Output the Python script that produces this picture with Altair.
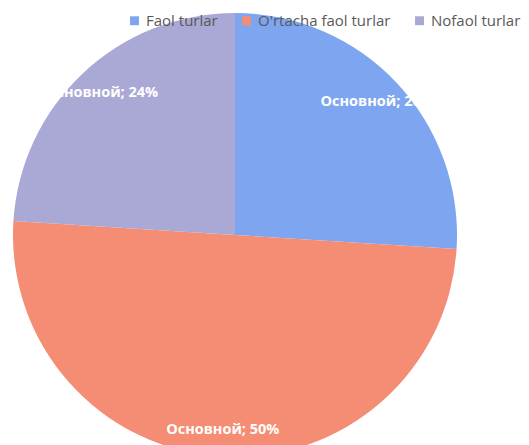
import altair as alt
import pandas as pd

categories = ["Faol turlar", "O'rtacha faol turlar", "Nofaol turlar"]
values = [26, 50, 24]
labels = ["Основной; 26%", "Основной; 50%", "Основной; 24%"]
colors = ["#7ea6f0", "#f58c74", "#aaa9d6"]

df = pd.DataFrame({"cat": categories, "val": values, "lab": labels, "idx": list(range(len(categories)))})

base = alt.Chart(df).encode(
    theta=alt.Theta("val:Q", stack=True),
    order=alt.Order("idx:O"),
)

arcs = base.mark_arc(outerRadius=222, strokeWidth=0).encode(
    x=alt.value(235),
    y=alt.value(235),
    color=alt.Color(
        "cat:N",
        scale=alt.Scale(domain=categories, range=colors),
        sort=categories,
        legend=alt.Legend(
            title=None,
            orient="none",
            direction="horizontal",
            legendX=127,
            legendY=13,
            symbolType="square",
            symbolSize=80,
            symbolStrokeWidth=0,
            labelFont="Open Sans",
            labelFontSize=15,
            labelColor="#595959",
            columnPadding=21,
            labelOffset=4,
            padding=0,
        ),
    ),
)

texts = base.mark_text(radius=195, font="Open Sans", fontSize=14.5, fontWeight="bold", color="white").encode(
    x=alt.value(235),
    y=alt.value(235),
    text="lab:N",
)

chart = alt.layer(arcs, texts).properties(
    width=529,
    height=445,
    autosize=alt.AutoSizeParams(type="none"),
    padding=0,
).configure_view(stroke=None)

chart.save("out.html", embed_options={"renderer": "svg", "actions": False})
